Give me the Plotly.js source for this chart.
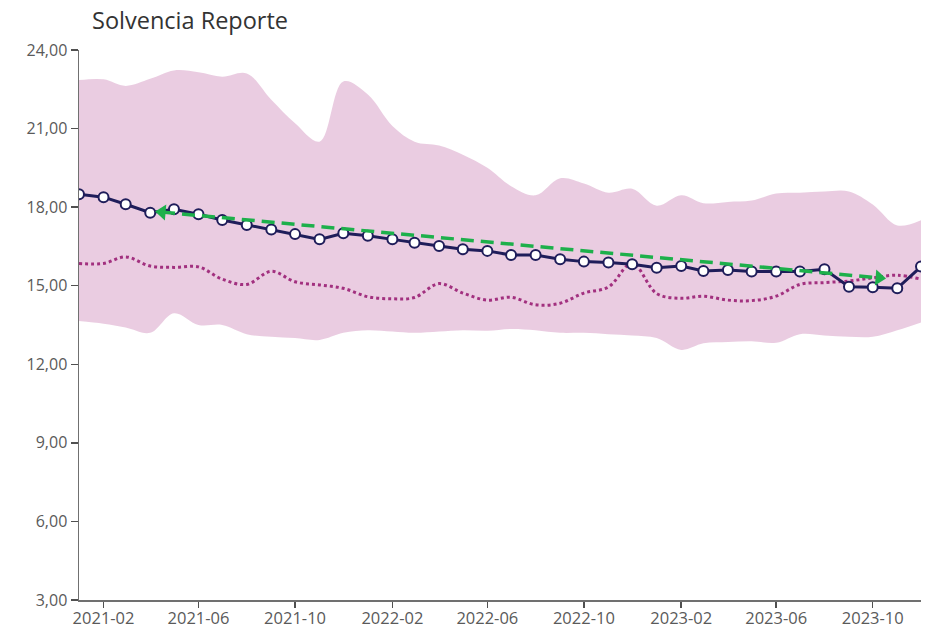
<!DOCTYPE html>
<html>
<head>
<meta charset="utf-8">
<script src="https://cdn.plot.ly/plotly-3.0.1.min.js"></script>
<style>html,body{margin:0;padding:0;background:#fff;}#chart{width:930px;height:629px;}</style>
</head>
<body>
<div id="chart"></div>
<script>
const months = ['2021-01','2021-02','2021-03','2021-04','2021-05','2021-06','2021-07','2021-08','2021-09','2021-10','2021-11','2021-12',
'2022-01','2022-02','2022-03','2022-04','2022-05','2022-06','2022-07','2022-08','2022-09','2022-10','2022-11','2022-12',
'2023-01','2023-02','2023-03','2023-04','2023-05','2023-06','2023-07','2023-08','2023-09','2023-10','2023-11','2023-12'];

const solvencia = [18.49,18.38,18.11,17.79,17.92,17.73,17.51,17.32,17.15,16.97,16.77,17.00,
16.91,16.77,16.64,16.52,16.39,16.33,16.17,16.17,16.01,15.92,15.89,15.82,
15.69,15.75,15.56,15.60,15.54,15.54,15.54,15.63,14.96,14.94,14.90,15.73];

const mediana = [15.85,15.85,16.10,15.75,15.70,15.72,15.25,15.05,15.55,15.15,15.03,14.90,
14.58,14.50,14.55,15.08,14.72,14.45,14.56,14.27,14.33,14.72,14.95,15.85,
14.70,14.52,14.60,14.45,14.43,14.60,15.05,15.12,15.18,15.30,15.40,15.25];

const superior = [22.85,22.88,22.63,22.90,23.22,23.15,22.98,23.10,22.10,21.20,20.50,22.80,
22.30,21.10,20.50,20.35,20.00,19.50,18.80,18.45,19.10,18.90,18.55,18.70,
18.05,18.45,18.15,18.20,18.25,18.52,18.55,18.60,18.60,18.10,17.30,17.50];

const inferior = [13.65,13.55,13.40,13.20,13.95,13.50,13.50,13.15,13.05,13.00,12.93,13.20,
13.30,13.25,13.20,13.25,13.30,13.28,13.35,13.30,13.20,13.20,13.15,13.10,
13.00,12.55,12.80,12.85,12.88,12.82,13.15,13.10,13.05,13.05,13.30,13.60];

const tendenciaFechas = ['2021-04-16','2023-10-09'];
const tendenciaValores = [17.81,15.30];

const yTicks = [3,6,9,12,15,18,21,24];

const traces = [
  {x: months, y: superior, type: 'scatter', mode: 'lines', line: {width: 0, shape: 'spline', smoothing: 1, color: 'rgba(0,0,0,0)'}, hoverinfo: 'skip', showlegend: false},
  {x: months, y: inferior, type: 'scatter', mode: 'lines', fill: 'tonexty', fillcolor: 'rgba(214,154,196,0.5)', line: {width: 0, shape: 'spline', smoothing: 1, color: 'rgba(0,0,0,0)'}, hoverinfo: 'skip', showlegend: false},
  {x: months, y: mediana, type: 'scatter', mode: 'lines', line: {color: '#A2307F', width: 3, dash: 'dot', shape: 'spline', smoothing: 1}, showlegend: false},
  {x: months, y: solvencia, type: 'scatter', mode: 'lines+markers', line: {color: '#1F1D5A', width: 3}, marker: {size: 10, color: '#ffffff', line: {color: '#1F1D5A', width: 2}}, showlegend: false},
  {x: tendenciaFechas, y: tendenciaValores, type: 'scatter', mode: 'lines', line: {color: '#1DB04B', width: 3.5, dash: '13px,7px'}, showlegend: false},
  {x: tendenciaFechas, y: tendenciaValores, type: 'scatter', mode: 'markers', marker: {symbol: ['triangle-left','triangle-right'], angle: 5, size: 14, color: '#1DB04B'}, showlegend: false}
];

const layout = {
  width: 930, height: 629,
  margin: {l: 79, r: 9, t: 50, b: 29},
  paper_bgcolor: '#ffffff', plot_bgcolor: '#ffffff',
  font: {family: 'Open Sans, Noto Sans, sans-serif', color: '#595959'},
  separators: ',.',
  title: {text: 'Solvencia Reporte', xref: 'container', yref: 'container', x: 92/930, xanchor: 'left', y: 1 - 21/629, yanchor: 'middle', font: {size: 23.5, color: '#333333', family: 'Open Sans, Noto Sans, sans-serif'}},
  xaxis: {
    type: 'date', range: ['2021-01-01','2023-12-01'],
    tick0: '2021-02-01', dtick: 'M4', tickformat: '%Y-%m',
    showgrid: false, zeroline: false,
    showline: true, linecolor: '#707070', linewidth: 1.5,
    ticks: 'outside', ticklen: 6, tickcolor: '#505050', tickwidth: 1.5,
    ticklabelstandoff: -3,
    tickfont: {size: 16.5, color: '#5a5a5a'}
  },
  yaxis: {
    range: [3, 24], tickvals: yTicks, tickformat: '.2f',
    showgrid: false, zeroline: false,
    showline: true, linecolor: '#707070', linewidth: 1.5,
    ticks: 'outside', ticklen: 7, tickcolor: '#505050', tickwidth: 1.5,
    tickfont: {size: 16, color: '#5a5a5a'},
    layer: 'below traces'
  },
  hovermode: false
};

Plotly.newPlot('chart', traces, layout, {displayModeBar: false, staticPlot: true});
</script>
</body>
</html>
